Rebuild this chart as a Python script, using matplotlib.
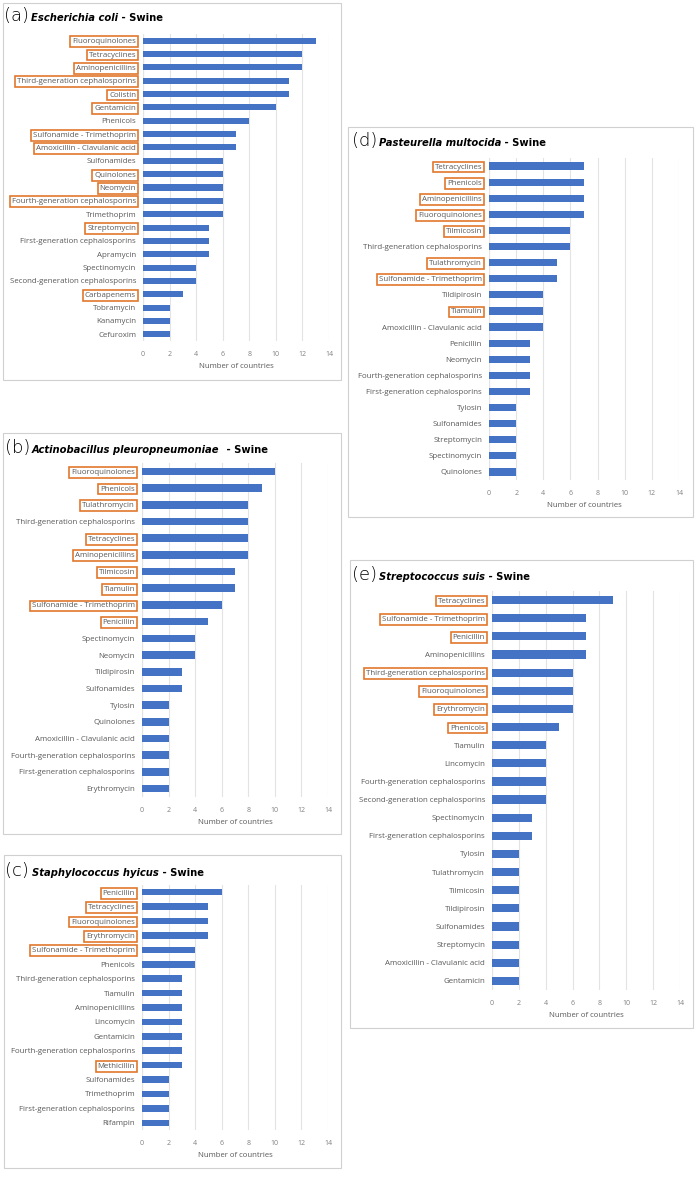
import matplotlib
matplotlib.use("Agg")
import matplotlib.pyplot as plt
from matplotlib.patches import Rectangle

W, H = 697, 1177
blue = "#4472C4"
orange = "#E0782E"
grey_txt = "#595959"

# (a) Escherichia coli
ecoli_drugs = ["Fluoroquinolones", "Tetracyclines", "Aminopenicillins", "Third-generation cephalosporins",
               "Colistin", "Gentamicin", "Phenicols", "Sulfonamide - Trimethoprim",
               "Amoxicillin - Clavulanic acid", "Sulfonamides", "Quinolones", "Neomycin",
               "Fourth-generation cephalosporins", "Trimethoprim", "Streptomycin",
               "First-generation cephalosporins", "Apramycin", "Spectinomycin",
               "Second-generation cephalosporins", "Carbapenems", "Tobramycin", "Kanamycin", "Cefuroxim"]
ecoli_counts = [13, 12, 12, 11, 11, 10, 8, 7, 7, 6, 6, 6, 6, 6, 5, 5, 5, 4, 4, 3, 2, 2, 2]
ecoli_boxed = ["Fluoroquinolones", "Tetracyclines", "Aminopenicillins", "Third-generation cephalosporins",
               "Colistin", "Gentamicin", "Sulfonamide - Trimethoprim", "Amoxicillin - Clavulanic acid",
               "Quinolones", "Neomycin", "Fourth-generation cephalosporins", "Streptomycin", "Carbapenems"]

# (b) Actinobacillus pleuropneumoniae
app_drugs = ["Fluoroquinolones", "Phenicols", "Tulathromycin", "Third-generation cephalosporins",
             "Tetracyclines", "Aminopenicillins", "Tilmicosin", "Tiamulin", "Sulfonamide - Trimethoprim",
             "Penicillin", "Spectinomycin", "Neomycin", "Tildipirosin", "Sulfonamides", "Tylosin",
             "Quinolones", "Amoxicillin - Clavulanic acid", "Fourth-generation cephalosporins",
             "First-generation cephalosporins", "Erythromycin"]
app_counts = [10, 9, 8, 8, 8, 8, 7, 7, 6, 5, 4, 4, 3, 3, 2, 2, 2, 2, 2, 2]
app_boxed = ["Fluoroquinolones", "Phenicols", "Tulathromycin", "Tetracyclines", "Aminopenicillins",
             "Tilmicosin", "Tiamulin", "Sulfonamide - Trimethoprim", "Penicillin"]

# (c) Staphylococcus hyicus
shy_drugs = ["Penicillin", "Tetracyclines", "Fluoroquinolones", "Erythromycin", "Sulfonamide - Trimethoprim",
             "Phenicols", "Third-generation cephalosporins", "Tiamulin", "Aminopenicillins", "Lincomycin",
             "Gentamicin", "Fourth-generation cephalosporins", "Methicillin", "Sulfonamides", "Trimethoprim",
             "First-generation cephalosporins", "Rifampin"]
shy_counts = [6, 5, 5, 5, 4, 4, 3, 3, 3, 3, 3, 3, 3, 2, 2, 2, 2]
shy_boxed = ["Penicillin", "Tetracyclines", "Fluoroquinolones", "Erythromycin",
             "Sulfonamide - Trimethoprim", "Methicillin"]

# (d) Pasteurella multocida
pm_drugs = ["Tetracyclines", "Phenicols", "Aminopenicillins", "Fluoroquinolones", "Tilmicosin",
            "Third-generation cephalosporins", "Tulathromycin", "Sulfonamide - Trimethoprim", "Tildipirosin",
            "Tiamulin", "Amoxicillin - Clavulanic acid", "Penicillin", "Neomycin",
            "Fourth-generation cephalosporins", "First-generation cephalosporins", "Tylosin", "Sulfonamides",
            "Streptomycin", "Spectinomycin", "Quinolones"]
pm_counts = [7, 7, 7, 7, 6, 6, 5, 5, 4, 4, 4, 3, 3, 3, 3, 2, 2, 2, 2, 2]
pm_boxed = ["Tetracyclines", "Phenicols", "Aminopenicillins", "Fluoroquinolones", "Tilmicosin",
            "Tulathromycin", "Sulfonamide - Trimethoprim", "Tiamulin"]

# (e) Streptococcus suis
ss_drugs = ["Tetracyclines", "Sulfonamide - Trimethoprim", "Penicillin", "Aminopenicillins",
            "Third-generation cephalosporins", "Fluoroquinolones", "Erythromycin", "Phenicols", "Tiamulin",
            "Lincomycin", "Fourth-generation cephalosporins", "Second-generation cephalosporins",
            "Spectinomycin", "First-generation cephalosporins", "Tylosin", "Tulathromycin", "Tilmicosin",
            "Tildipirosin", "Sulfonamides", "Streptomycin", "Amoxicillin - Clavulanic acid", "Gentamicin"]
ss_counts = [9, 7, 7, 7, 6, 6, 6, 5, 4, 4, 4, 4, 3, 3, 2, 2, 2, 2, 2, 2, 2, 2]
ss_boxed = ["Tetracyclines", "Sulfonamide - Trimethoprim", "Penicillin", "Third-generation cephalosporins",
            "Fluoroquinolones", "Erythromycin", "Phenicols"]

x_ticks = [0, 2, 4, 6, 8, 10, 12, 14]

plt.rcParams["font.family"] = ["Open Sans", "DejaVu Sans"]

fig = plt.figure(figsize=(W / 100, H / 100), dpi=100)


def px_rect(x0, y0, x1, y1):
    return [x0 / W, 1 - y1 / H, (x1 - x0) / W, (y1 - y0) / H]


def draw_panel(box, ax_px, title_xy, letter, species, drugs, counts, boxed):
    # grey frame round each panel
    bx0, by0, bx1, by1 = box
    fig.add_artist(Rectangle((bx0 / W, 1 - by1 / H), (bx1 - bx0) / W, (by1 - by0) / H,
                             transform=fig.transFigure, fill=False, ec="#D0D0D0", lw=0.8))

    ax = fig.add_axes(px_rect(*ax_px))
    y = list(range(len(drugs)))
    ax.barh(y, counts, height=0.45, color=blue, zorder=3)
    ax.set_ylim(len(drugs) - 0.5, -0.5)
    ax.set_xlim(0, 14)
    ax.set_xticks(x_ticks)
    ax.set_yticks(y)
    ax.set_yticklabels(drugs, fontsize=5.7, color=grey_txt)
    ax.tick_params(axis="y", length=0, pad=5)
    ax.tick_params(axis="x", length=0, pad=7, labelsize=5, labelcolor="#808080")
    ax.grid(axis="x", color="#E3E3E3", lw=0.8, zorder=0)
    for s in ax.spines.values():
        s.set_visible(False)
    ax.axvline(0, color="#D9D9D9", lw=0.8, zorder=1)
    ax.set_xlabel("Number of countries", fontsize=5.6, color=grey_txt, labelpad=4)
    for lab in ax.get_yticklabels():
        if lab.get_text() in boxed:
            lab.set_bbox(dict(boxstyle="square,pad=0.24", fc="none", ec=orange, lw=1.2))

    tx, ty = title_xy
    fig.text(tx / W, 1 - ty / H, "(" + letter + ")", fontsize=13, color="black",
             va="baseline", ha="left", family=["DejaVu Sans"], fontweight="light")
    t2 = fig.text((tx + 27) / W, 1 - ty / H, species, fontsize=7.2, fontweight="bold", style="italic",
                  va="baseline", ha="left", family=["DejaVu Sans"])
    ax.annotate(" - Swine", xy=(1, 0), xycoords=t2, xytext=(0, 0), textcoords="offset points",
                fontsize=7.2, fontweight="bold", va="bottom", ha="left", family=["DejaVu Sans"],
                annotation_clip=False)
    return ax


draw_panel((3, 3, 341, 380), (143, 34, 329, 341), (4, 21), "a", "Escherichia coli",
           ecoli_drugs, ecoli_counts, ecoli_boxed)
draw_panel((3, 433, 341, 834), (142, 463, 328, 797), (5, 453), "b", "Actinobacillus pleuropneumoniae ",
           app_drugs, app_counts, app_boxed)
draw_panel((4, 855, 341, 1168), (142, 885, 328, 1130), (5, 876), "c", "Staphylococcus hyicus",
           shy_drugs, shy_counts, shy_boxed)
draw_panel((348, 127, 693, 517), (489, 158, 679, 480), (352, 146), "d", "Pasteurella multocida",
           pm_drugs, pm_counts, pm_boxed)
draw_panel((350, 560, 693, 1028), (492, 591, 680, 990), (352, 580), "e", "Streptococcus suis",
           ss_drugs, ss_counts, ss_boxed)

fig.savefig("out.png", dpi=100, facecolor="white")
